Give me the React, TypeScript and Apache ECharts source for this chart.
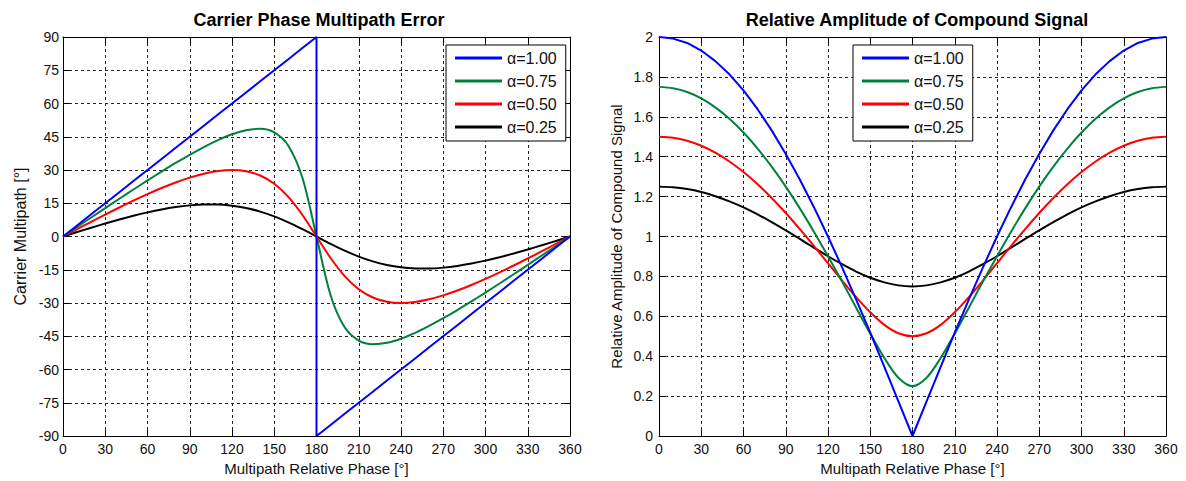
import React, { useEffect, useRef } from "react";
import * as echarts from "echarts";

const phase = [0, 10, 20, 30, 40, 50, 60, 70, 80, 90, 100, 110, 120, 130, 140, 150, 160, 170, 180, 190, 200, 210, 220, 230, 240, 250, 260, 270, 280, 290, 300, 310, 320, 330, 340, 350, 360];
const phaseJump = [0, 10, 20, 30, 40, 50, 60, 70, 80, 90, 100, 110, 120, 130, 140, 150, 160, 170, 180, 180, 190, 200, 210, 220, 230, 240, 250, 260, 270, 280, 290, 300, 310, 320, 330, 340, 350, 360];

const seriesNames = ["α=1.00", "α=0.75", "α=0.50", "α=0.25"];
const seriesColors = ["#0000ff", "#00803c", "#ff0000", "#000000"];

const carrierA100 = [0, 5, 10, 15, 20, 25, 30, 35, 40, 45, 50, 55, 60, 65, 70, 75, 80, 85, 90, -90, -85, -80, -75, -70, -65, -60, -55, -50, -45, -40, -35, -30, -25, -20, -15, -10, -5, 0];
const carrierA075 = [0, 4.28, 8.56, 12.81, 17.02, 21.19, 25.29, 29.29, 33.17, 36.87, 40.34, 43.47, 46.1, 47.97, 48.57, 46.93, 40.98, 26.48, 0, -26.48, -40.98, -46.93, -48.57, -47.97, -46.1, -43.47, -40.34, -36.87, -33.17, -29.29, -25.29, -21.19, -17.02, -12.81, -8.56, -4.28, 0];
const carrierA050 = [0, 3.33, 6.64, 9.9, 13.08, 16.17, 19.11, 21.86, 24.38, 26.57, 28.33, 29.54, 30.0, 29.44, 27.51, 23.79, 17.88, 9.71, 0, -9.71, -17.88, -23.79, -27.51, -29.44, -30.0, -29.54, -28.33, -26.57, -24.38, -21.86, -19.11, -16.17, -13.08, -9.9, -6.64, -3.33, 0];
const carrierA025 = [0, 2.0, 3.96, 5.87, 7.68, 9.37, 10.89, 12.21, 13.28, 14.04, 14.43, 14.41, 13.9, 12.85, 11.24, 9.06, 6.38, 3.3, 0, -3.3, -6.38, -9.06, -11.24, -12.85, -13.9, -14.41, -14.43, -14.04, -13.28, -12.21, -10.89, -9.37, -7.68, -5.87, -3.96, -2.0, 0];

const ampA100 = [2.0, 1.992, 1.97, 1.932, 1.879, 1.813, 1.732, 1.638, 1.532, 1.414, 1.286, 1.147, 1.0, 0.845, 0.684, 0.518, 0.347, 0.174, 0, 0.174, 0.347, 0.518, 0.684, 0.845, 1.0, 1.147, 1.286, 1.414, 1.532, 1.638, 1.732, 1.813, 1.879, 1.932, 1.97, 1.992, 2.0];
const ampA075 = [1.75, 1.743, 1.724, 1.692, 1.647, 1.59, 1.521, 1.441, 1.35, 1.25, 1.141, 1.024, 0.901, 0.774, 0.643, 0.513, 0.391, 0.292, 0.25, 0.292, 0.391, 0.513, 0.643, 0.774, 0.901, 1.024, 1.141, 1.25, 1.35, 1.441, 1.521, 1.59, 1.647, 1.692, 1.724, 1.743, 1.75];
const ampA050 = [1.5, 1.495, 1.48, 1.455, 1.42, 1.376, 1.323, 1.262, 1.193, 1.118, 1.037, 0.953, 0.866, 0.779, 0.696, 0.62, 0.557, 0.515, 0.5, 0.515, 0.557, 0.62, 0.696, 0.779, 0.866, 0.953, 1.037, 1.118, 1.193, 1.262, 1.323, 1.376, 1.42, 1.455, 1.48, 1.495, 1.5];
const ampA025 = [1.25, 1.247, 1.238, 1.223, 1.202, 1.176, 1.146, 1.111, 1.072, 1.031, 0.988, 0.944, 0.901, 0.861, 0.824, 0.793, 0.77, 0.755, 0.75, 0.755, 0.77, 0.793, 0.824, 0.861, 0.901, 0.944, 0.988, 1.031, 1.072, 1.111, 1.146, 1.176, 1.202, 1.223, 1.238, 1.247, 1.25];

const leftTitle = "Carrier Phase Multipath Error";
const rightTitle = "Relative Amplitude of Compound Signal";
const xName = "Multipath Relative Phase [°]";
const leftYName = "Carrier Multipath [°]";
const rightYName = "Relative Amplitude of Compound Signal";

const FONT = "'Liberation Sans', Arial, sans-serif";

function pairs(xs: number[], ys: number[]) {
  return ys.map((y, i) => [xs[i], y]);
}

export default function App() {
  const ref = useRef<HTMLDivElement>(null);
  useEffect(() => {
    document.body.style.margin = "0";
    if (!ref.current) return;
    const chart = echarts.init(ref.current, undefined, { renderer: "svg" });

    const labelStyle = { color: "#111", fontFamily: FONT, fontSize: 14 };
    const lineBlack = { color: "#000", width: 1 };
    const mainX = (gridIndex: number) => ({
      type: "value",
      gridIndex,
      min: 0,
      max: 360,
      interval: 30,
      position: "bottom",
      name: xName,
      nameLocation: "middle",
      nameGap: 25,
      nameTextStyle: { color: "#111", fontFamily: FONT, fontSize: 15 },
      axisLine: { show: true, onZero: false, lineStyle: lineBlack },
      axisTick: { show: true, inside: true, length: 6, lineStyle: lineBlack },
      axisLabel: { ...labelStyle, margin: 6 },
      splitLine: { show: true, lineStyle: { color: "#222", width: 1, type: [3, 3] } },
    });
    const topX = (gridIndex: number) => ({
      type: "value",
      gridIndex,
      min: 0,
      max: 360,
      interval: 30,
      position: "top",
      axisLine: { show: true, onZero: false, lineStyle: lineBlack },
      axisTick: { show: true, inside: true, length: 6, lineStyle: lineBlack },
      axisLabel: { show: false },
      splitLine: { show: false },
    });
    const mainY = (gridIndex: number, min: number, max: number, interval: number, name: string, nameGap: number, margin: number, nameSize: number) => ({
      type: "value",
      gridIndex,
      min,
      max,
      interval,
      position: "left",
      name,
      nameLocation: "middle",
      nameGap,
      nameTextStyle: { color: "#111", fontFamily: FONT, fontSize: nameSize },
      axisLine: { show: true, onZero: false, lineStyle: lineBlack },
      axisTick: { show: true, inside: true, length: 6, lineStyle: lineBlack },
      axisLabel: { ...labelStyle, margin },
      splitLine: { show: true, lineStyle: { color: "#222", width: 1, type: [3, 3] } },
    });
    const rightY = (gridIndex: number, min: number, max: number, interval: number) => ({
      type: "value",
      gridIndex,
      min,
      max,
      interval,
      position: "right",
      axisLine: { show: true, onZero: false, lineStyle: lineBlack },
      axisTick: { show: true, inside: true, length: 6, lineStyle: lineBlack },
      axisLabel: { show: false },
      splitLine: { show: false },
    });

    const carrierData = [
      pairs(phaseJump, carrierA100),
      pairs(phase, carrierA075),
      pairs(phase, carrierA050),
      pairs(phase, carrierA025),
    ];
    const ampData = [
      pairs(phase, ampA100),
      pairs(phase, ampA075),
      pairs(phase, ampA050),
      pairs(phase, ampA025),
    ];

    const series: any[] = [];
    carrierData.forEach((d, i) => {
      series.push({
        type: "line",
        name: seriesNames[i],
        xAxisIndex: 0,
        yAxisIndex: 0,
        data: d,
        showSymbol: false,
        smooth: i === 0 ? false : 0.3,
        lineStyle: { color: seriesColors[i], width: 2 },
        itemStyle: { color: seriesColors[i] },
        z: 10 - i,
      });
    });
    ampData.forEach((d, i) => {
      series.push({
        type: "line",
        name: seriesNames[i],
        xAxisIndex: 2,
        yAxisIndex: 2,
        data: d,
        showSymbol: false,
        smooth: i === 0 ? false : 0.3,
        lineStyle: { color: seriesColors[i], width: 2 },
        itemStyle: { color: seriesColors[i] },
        z: 10 - i,
      });
    });

    const legendBase = {
      orient: "vertical",
      top: 45,
      data: seriesNames,
      icon: "rect",
      itemWidth: 47,
      itemHeight: 3,
      itemGap: 7,
      padding: [5, 9, 6, 9],
      backgroundColor: "#fff",
      borderColor: "#000",
      borderWidth: 1,
      borderRadius: 0,
      selectedMode: false,
      textStyle: { color: "#111", fontFamily: FONT, fontSize: 16 },
      z: 20,
    };

    chart.setOption({
      animation: false,
      backgroundColor: "#fff",
      title: [
        {
          text: leftTitle,
          left: 314,
          textAlign: "center",
          top: 6,
          textStyle: { fontFamily: FONT, fontSize: 18, fontWeight: "bold", color: "#000" },
        },
        {
          text: rightTitle,
          left: 912,
          textAlign: "center",
          top: 6,
          textStyle: { fontFamily: FONT, fontSize: 18, fontWeight: "bold", color: "#000" },
        },
      ],
      legend: [
        { ...legendBase, left: 446 },
        { ...legendBase, left: 853 },
      ],
      grid: [
        { left: 63, top: 37, width: 507, height: 400 },
        { left: 659, top: 37, width: 507, height: 400 },
      ],
      xAxis: [mainX(0), topX(0), mainX(1), topX(1)],
      yAxis: [
        mainY(0, -90, 90, 15, leftYName, 35, 4, 16),
        rightY(0, -90, 90, 15),
        mainY(1, 0, 2, 0.2, rightYName, 35, 6, 15),
        rightY(1, 0, 2, 0.2),
      ],
      series,
    });
    return () => chart.dispose();
  }, []);
  return <div ref={ref} style={{ width: 1186, height: 481 }} />;
}
